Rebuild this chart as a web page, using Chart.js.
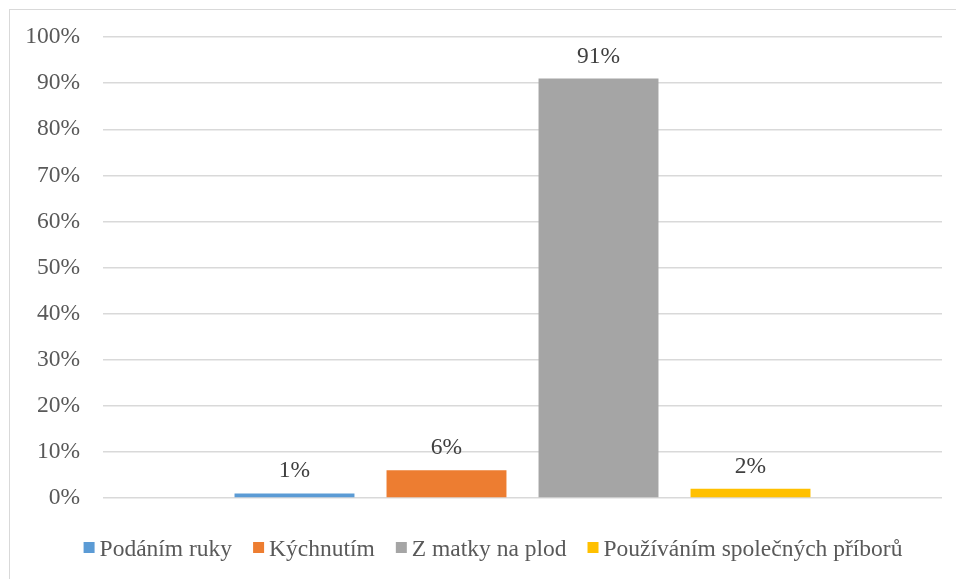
<!DOCTYPE html>
<html>
<head>
<meta charset="utf-8">
<script src="https://cdn.jsdelivr.net/npm/chart.js@4"></script>
<style>
  html, body { margin: 0; padding: 0; background: #fff; }
  #wrap { width: 956px; height: 579px; }
</style>
</head>
<body>
<div id="wrap"><canvas id="c" width="956" height="579"></canvas></div>
<script>
// Ways of transmission and the share of answers for each
const seriesNames = ['Podáním ruky', 'Kýchnutím', 'Z matky na plod', 'Používáním společných příborů'];
const seriesValues = [1, 6, 91, 2];
const seriesColors = ['#5B9BD5', '#ED7D31', '#A5A5A5', '#FFC000'];
const categories = [''];
const yTicks = [0, 10, 20, 30, 40, 50, 60, 70, 80, 90, 100];

const FONT = "'Liberation Serif', 'Times New Roman', serif";
const FONT_SIZE = 23.5;

// Light frame around the chart
const framePlugin = {
  id: 'frame',
  beforeDraw(chart) {
    const ctx = chart.ctx;
    ctx.save();
    ctx.fillStyle = '#ffffff';
    ctx.fillRect(0, 0, chart.width, chart.height);
    ctx.strokeStyle = '#d9d9d9';
    ctx.lineWidth = 1;
    ctx.strokeRect(9.5, 9.5, chart.width + 20, chart.height + 20);
    ctx.restore();
  }
};

// Percent labels above each bar
const valueLabelPlugin = {
  id: 'valueLabels',
  afterDatasetsDraw(chart) {
    const ctx = chart.ctx;
    ctx.save();
    ctx.font = FONT_SIZE + 'px ' + FONT;
    ctx.fillStyle = '#404040';
    ctx.textAlign = 'center';
    ctx.textBaseline = 'alphabetic';
    chart.data.datasets.forEach((ds, i) => {
      const meta = chart.getDatasetMeta(i);
      meta.data.forEach((bar, j) => {
        ctx.fillText(ds.data[j] + '%', bar.x, bar.y - 16);
      });
    });
    ctx.restore();
  }
};

// Legend row under the plot with small square markers
const legendRowPlugin = {
  id: 'legendRow',
  afterDraw(chart) {
    const ctx = chart.ctx;
    ctx.save();
    ctx.font = FONT_SIZE + 'px ' + FONT;
    ctx.textBaseline = 'alphabetic';
    const box = 11, gap = 5, spacing = 21;
    const items = chart.data.datasets.map(ds => ({
      label: ds.label, color: ds.backgroundColor, w: ctx.measureText(ds.label).width
    }));
    const total = items.reduce((s, it) => s + box + gap + it.w, 0) + spacing * (items.length - 1);
    let x = 493 - total / 2;
    const baseline = 556;
    items.forEach(it => {
      ctx.fillStyle = it.color;
      ctx.fillRect(x, 542, box, box);
      ctx.fillStyle = '#595959';
      ctx.fillText(it.label, x + box + gap, baseline);
      x += box + gap + it.w + spacing;
    });
    ctx.restore();
  }
};

new Chart(document.getElementById('c'), {
  type: 'bar',
  data: {
    labels: categories,
    datasets: seriesNames.map((name, i) => ({
      label: name,
      data: [seriesValues[i]],
      backgroundColor: seriesColors[i],
      borderWidth: 0,
      categoryPercentage: 0.7247,
      barPercentage: 0.789
    }))
  },
  options: {
    responsive: false,
    animation: false,
    devicePixelRatio: 1,
    layout: { padding: { left: 0, right: 14, top: 37, bottom: 81 } },
    plugins: {
      legend: { display: false },
      tooltip: { enabled: false }
    },
    scales: {
      x: {
        display: false
      },
      y: {
        min: 0,
        max: 100,
        afterFit(scale) { scale.width = 103; },
        afterBuildTicks(scale) { scale.ticks = yTicks.map(v => ({ value: v })); },
        border: { display: false },
        grid: { color: '#d9d9d9', lineWidth: 1.5, drawTicks: false },
        ticks: {
          padding: 23,
          color: '#595959',
          font: { family: FONT, size: FONT_SIZE },
          callback: v => v + '%'
        }
      }
    }
  },
  plugins: [framePlugin, valueLabelPlugin, legendRowPlugin]
});
</script>
</body>
</html>
